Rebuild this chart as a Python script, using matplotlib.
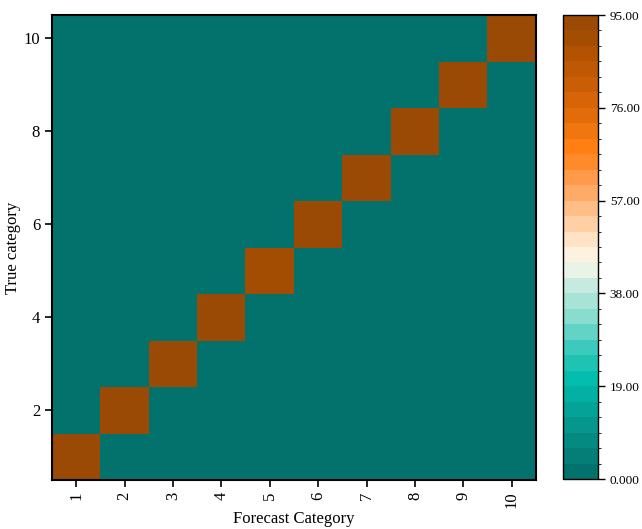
import numpy as np
import matplotlib
matplotlib.use("Agg")
import matplotlib.pyplot as plt
from matplotlib.colors import ListedColormap, BoundaryNorm

plt.rcParams['font.family'] = ['Liberation Serif', 'DejaVu Serif']

categories = [1, 2, 3, 4, 5, 6, 7, 8, 9, 10]
diagonal = [95, 95, 95, 95, 89, 95, 95, 95, 95, 95]
cbar_ticks = [0, 19, 38, 57, 76, 95]
cbar_labels = ["0.000", "19.00", "38.00", "57.00", "76.00", "95.00"]

n = len(categories)
matrix = np.zeros((n, n))
for i, v in enumerate(diagonal):
    matrix[i, i] = v

band_colors = [
    "#04726C", "#057E77", "#058A82", "#05968C", "#04A398", "#03B1A4",
    "#03BDAE", "#1EC3B4", "#3CCABC", "#62D3C5", "#88DDCE", "#A7E3D6",
    "#C6EADD", "#EAF4E6", "#FDF1E0", "#FFE3C4", "#FFCFA5", "#FFBE88",
    "#FFAB68", "#FF9A4A", "#FF8A2A", "#FF7F12", "#F07610", "#E36C0A",
    "#D76508", "#CA5E06", "#BE5804", "#B25202", "#A34D02", "#9A4A04",
]
cmap = ListedColormap(band_colors)
levels = np.linspace(0, 95, 31)
norm = BoundaryNorm(levels, cmap.N)

fig = plt.figure(figsize=(6.42, 5.29), dpi=100)
ax = fig.add_axes([52/642, 1 - 480/529, 484/642, 465/529])
cax = fig.add_axes([563/642, 1 - 479/529, 35/642, 464/529])

im = ax.imshow(matrix, cmap=cmap, norm=norm, origin='lower', aspect='auto',
               extent=[0.5, n + 0.5, 0.5, n + 0.5], interpolation='nearest')

ax.set_xticks(categories)
ax.set_xticklabels([str(c) for c in categories], rotation=90)
ax.set_yticks([2, 4, 6, 8, 10])
ax.tick_params(axis='both', direction='out', length=5, width=1.2, labelsize=12)
for s in ax.spines.values():
    s.set_linewidth(1.5)
ax.set_xlabel("Forecast Category", fontsize=12, labelpad=2)
ax.set_ylabel("True category", fontsize=12, labelpad=2)

cb = fig.colorbar(im, cax=cax, ticks=cbar_ticks, spacing='proportional')
cb.ax.set_yticklabels(cbar_labels)
cb.ax.tick_params(labelsize=9.5, length=5, width=1)
cb.outline.set_linewidth(1)

fig.savefig("out.png", dpi=100)
